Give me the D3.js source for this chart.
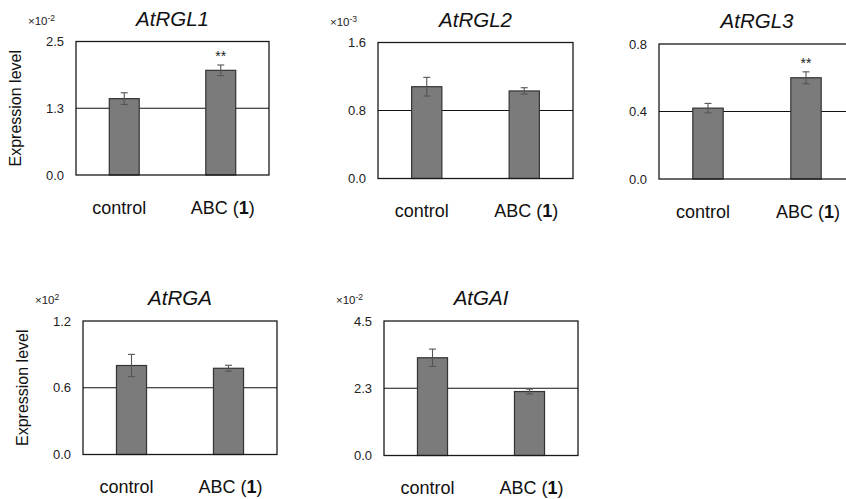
<!DOCTYPE html>
<html>
<head>
<meta charset="utf-8">
<script src="https://cdn.jsdelivr.net/npm/d3@7"></script>
<style>
  html, body { margin: 0; padding: 0; background: #fff; }
  svg { display: block; font-family: "Liberation Sans", Arial, Helvetica, sans-serif; }
</style>
</head>
<body>
<svg width="846" height="499"></svg>
<script>
// data
var genes = ["AtRGL1", "AtRGL2", "AtRGL3", "AtRGA", "AtGAI"];
var categories = ["control", "ABC (1)"];
var controlMean = [1.43, 1.08, 0.42, 0.80, 3.27];
var controlErr = [0.11, 0.11, 0.028, 0.10, 0.29];
var abcMean = [1.96, 1.03, 0.60, 0.775, 2.14];
var abcErr = [0.10, 0.038, 0.035, 0.027, 0.08];
var axisMax = [2.5, 1.6, 0.8, 1.2, 4.5];
var tickLabels = [
    ["0.0", "1.3", "2.5"],
    ["0.0", "0.8", "1.6"],
    ["0.0", "0.4", "0.8"],
    ["0.0", "0.6", "1.2"],
    ["0.0", "2.3", "4.5"]
];
var exponents = ["-2", "-3", "", "2", "-2"];
var signif = [["", "**"], ["", ""], ["", "**"], ["", ""], ["", ""]];
var showYLabel = [true, false, false, true, false];

// panel boxes (layout)
var boxes = [
    { x0: 76, x1: 269, y0: 41.5, y1: 175 },
    { x0: 378, x1: 573, y0: 42.5, y1: 178.5 },
    { x0: 659, x1: 855, y0: 44, y1: 179 },
    { x0: 83, x1: 277, y0: 321, y1: 454.5 },
    { x0: 384, x1: 578, y0: 321, y1: 455.5 }
];
// small horizontal nudge of the category labels
var labelShift = [-5, 2];

var svg = d3.select("svg");

genes.forEach(function (gene, i) {
    var b = boxes[i];
    var g = svg.append("g");

    var x = d3.scaleBand()
        .domain(categories)
        .range([b.x0, b.x1])
        .paddingInner(0.69)
        .paddingOuter(0.345);
    var y = d3.scaleLinear()
        .domain([0, axisMax[i]])
        .range([b.y1, b.y0]);

    var ticks = [0, axisMax[i] / 2, axisMax[i]];

    // middle gridline
    g.append("line")
        .attr("x1", b.x0).attr("x2", b.x1)
        .attr("y1", y(ticks[1])).attr("y2", y(ticks[1]))
        .attr("stroke", "#111").attr("stroke-width", 1.1);

    // tick labels
    g.selectAll(".tick")
        .data(ticks)
        .enter().append("text")
        .attr("x", b.x0 - 12)
        .attr("y", function (d) { return y(d); })
        .attr("dy", "0.35em")
        .attr("text-anchor", "end")
        .attr("font-size", 13)
        .attr("fill", "#222")
        .text(function (d, k) { return tickLabels[i][k]; });

    // bars
    var rows = categories.map(function (c, k) {
        return {
            cat: c,
            mean: k === 0 ? controlMean[i] : abcMean[i],
            err: k === 0 ? controlErr[i] : abcErr[i],
            sig: signif[i][k]
        };
    });

    g.selectAll(".bar")
        .data(rows)
        .enter().append("rect")
        .attr("x", function (d) { return x(d.cat); })
        .attr("width", x.bandwidth())
        .attr("y", function (d) { return y(d.mean); })
        .attr("height", function (d) { return y(0) - y(d.mean); })
        .attr("fill", "#7b7b7b")
        .attr("stroke", "#333")
        .attr("stroke-width", 1.2);

    // error bars
    var eb = g.selectAll(".err")
        .data(rows)
        .enter().append("g")
        .attr("stroke", "#555")
        .attr("stroke-width", 1.1);
    eb.append("line")
        .attr("x1", function (d) { return x(d.cat) + x.bandwidth() / 2; })
        .attr("x2", function (d) { return x(d.cat) + x.bandwidth() / 2; })
        .attr("y1", function (d) { return y(d.mean + d.err); })
        .attr("y2", function (d) { return y(d.mean - d.err); });
    [1, -1].forEach(function (s) {
        eb.append("line")
            .attr("x1", function (d) { return x(d.cat) + x.bandwidth() / 2 - 3.5; })
            .attr("x2", function (d) { return x(d.cat) + x.bandwidth() / 2 + 3.5; })
            .attr("y1", function (d) { return y(d.mean + s * d.err); })
            .attr("y2", function (d) { return y(d.mean + s * d.err); });
    });

    // significance stars
    g.selectAll(".sig")
        .data(rows.filter(function (d) { return d.sig; }))
        .enter().append("text")
        .attr("x", function (d) { return x(d.cat) + x.bandwidth() / 2; })
        .attr("y", function (d) { return y(d.mean + d.err) - 4; })
        .attr("text-anchor", "middle")
        .attr("font-size", 14)
        .attr("fill", "#222")
        .text(function (d) { return d.sig; });

    // frame
    g.append("rect")
        .attr("x", b.x0).attr("y", b.y0)
        .attr("width", b.x1 - b.x0).attr("height", b.y1 - b.y0)
        .attr("fill", "none")
        .attr("stroke", "#1a1a1a")
        .attr("stroke-width", 1.3);

    // category labels
    var lab = g.selectAll(".cat")
        .data(categories)
        .enter().append("text")
        .attr("x", function (d, k) { return x(d) + x.bandwidth() / 2 + labelShift[k]; })
        .attr("y", b.y1 + 38.5)
        .attr("text-anchor", "middle")
        .attr("font-size", 18)
        .attr("fill", "#111");
    lab.each(function (d) {
        var t = d3.select(this);
        var m = d.match(/^(.*\()(\d+)(\))$/);
        if (m) {
            t.append("tspan").text(m[1]);
            t.append("tspan").attr("font-weight", "bold").text(m[2]);
            t.append("tspan").text(m[3]);
        } else {
            t.text(d);
        }
    });

    // title
    g.append("text")
        .attr("x", (b.x0 + b.x1) / 2)
        .attr("y", b.y0 - 16)
        .attr("text-anchor", "middle")
        .attr("font-size", 20.5)
        .attr("font-style", "italic")
        .attr("fill", "#111")
        .text(gene);

    // exponent
    if (exponents[i]) {
        var ex = g.append("text")
            .attr("x", b.x0 - 48)
            .attr("y", b.y0 - 17)
            .attr("font-size", 11.5)
            .attr("fill", "#222");
        ex.append("tspan").text("\u00d710");
        ex.append("tspan")
            .attr("font-size", 8.5)
            .attr("dy", -4)
            .text(exponents[i]);
    }

    // y label
    if (showYLabel[i]) {
        g.append("text")
            .attr("transform", "translate(" + (b.x0 - 55) + "," + ((b.y0 + b.y1) / 2) + ") rotate(-90)")
            .attr("text-anchor", "middle")
            .attr("font-size", 16)
            .attr("fill", "#111")
            .text("Expression level");
    }
});
</script>
</body>
</html>
